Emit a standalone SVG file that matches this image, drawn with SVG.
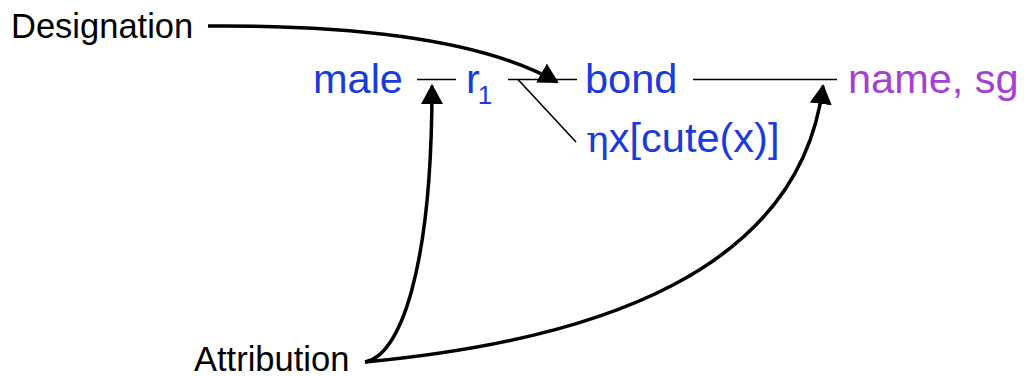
<svg xmlns="http://www.w3.org/2000/svg" width="1030" height="376" viewBox="0 0 1030 376">
<style>
  .lbl{font-family:"Liberation Sans",Arial,sans-serif;font-size:34.5px;fill:#000}
  .t{font-family:"Liberation Sans",Arial,sans-serif;font-size:41.5px;fill:#1a3bdc}
  .p{fill:#a53fd5}
  .sub{font-size:26px}
  .thin{stroke:#000;stroke-width:1.6;fill:none}
  .arr{stroke:#000;stroke-width:3.5;fill:none;marker-end:url(#ah)}
</style>
<defs>
  <marker id="ah" markerUnits="userSpaceOnUse" markerWidth="20" markerHeight="22" viewBox="0 0 20 22" refX="18" refY="11" orient="auto">
    <path d="M0,0 L20,11 L0,22 z" fill="#000"/>
  </marker>
</defs>
<rect width="1030" height="376" fill="#fff"/>
<g id="designation"><text class="lbl" x="11" y="38">Designation</text></g>
<g id="attribution"><text class="lbl" x="194" y="371">Attribution</text></g>
<g id="male"><text class="t" x="313" y="93">male</text></g>
<g id="r1"><text class="t" x="466" y="93">r<tspan class="sub" dx="-2" dy="11">1</tspan></text></g>
<g id="bond"><text class="t" x="585" y="93">bond</text></g>
<g id="eta"><text class="t" x="586" y="152"><tspan style="font-family:'DejaVu Serif','Liberation Serif',serif;font-size:38px">η</tspan>x[cute(x)]</text></g>
<g id="name"><text class="t p" x="848" y="93">name, sg</text></g>
<g id="connectors">
  <line class="thin" x1="417" y1="79.5" x2="456" y2="79.5"/>
  <line class="thin" x1="508" y1="79.5" x2="577" y2="79.5"/>
  <line class="thin" x1="518" y1="79.5" x2="576" y2="142"/>
  <line class="thin" x1="693" y1="79.5" x2="837" y2="79.5"/>
  <path class="arr" d="M208,26 C350,25 480,38 557,82"/>
  <path class="arr" d="M365,362 C400,356 432,270 432,86"/>
  <path class="arr" d="M365,362 C600,340 800,270 823,86"/>
</g>
</svg>
